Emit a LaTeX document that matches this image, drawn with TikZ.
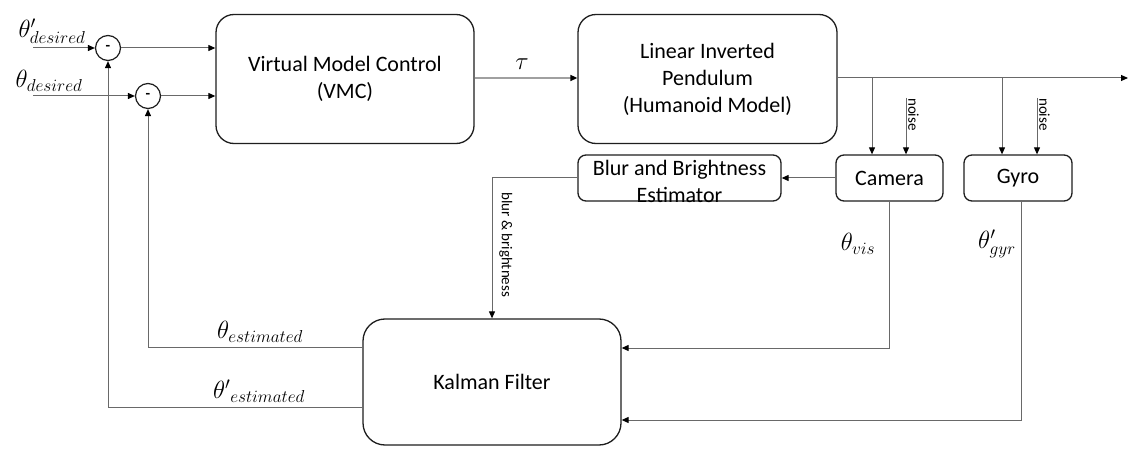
\documentclass[tikz,border=0pt]{standalone}
\usepackage{fontspec}
\setmainfont{Carlito}
\DeclareMathSizes{23}{23}{18}{13}
\usetikzlibrary{arrows.meta,calc}
\definecolor{conn}{RGB}{105,105,105}
\definecolor{tauc}{RGB}{160,160,160}
\definecolor{boxc}{RGB}{30,30,30}
\tikzset{
  block/.style={draw=boxc, line width=1.3pt, rounded corners=#1, align=center, inner sep=0pt,
    font=\fontsize{22}{27}\selectfont},
  block/.default=18pt,
  sumc/.style={draw=boxc, line width=1.2pt, circle, minimum size=25pt, inner sep=0pt,
    font=\fontsize{15}{15}\selectfont\bfseries},
  wire/.style={draw=conn, line width=1pt},
  arr/.style={wire, -{Triangle[length=7pt,width=6pt,color=black]}},
  small/.style={font=\fontsize{15}{15}\selectfont, inner sep=0pt},
  mlab/.style={font=\fontsize{23}{23}\selectfont, inner sep=0pt},
}
\begin{document}
\begin{tikzpicture}[x=1pt,y=-1pt]
\useasboundingbox[fill=white] (0,0) rectangle (1130,449);
% blocks
\node[block, minimum width=258pt, minimum height=129pt] (vmc) at (345,79)
  {Virtual Model Control\\(VMC)};
\node[block, minimum width=259pt, minimum height=129pt] (lip) at (707.5,79)
  {Linear Inverted\\Pendulum\\(Humanoid Model)};
\node[block=8pt, minimum width=203pt, minimum height=46pt] (blur) at (679.5,178) {};
\node[align=center, inner sep=0pt, font=\fontsize{22}{27}\selectfont] (blurtxt) at (679.5,181)
  {Blur and Brightness\\Estimator};
\node[block=8pt, minimum width=107pt, minimum height=46pt] (cam) at (889.5,178) {Camera};
\node[block=8pt, minimum width=108pt, minimum height=46pt] (gyro) at (1018,178) {Gyro};
\node[block=22pt, minimum width=258pt, minimum height=126pt] (kal) at (492,382) {Kalman Filter};
\node[sumc] (s1) at (108,48) {-};
\node[sumc] (s2) at (148,96) {-};
% coordinates
\coordinate (in1) at (33,48);
\coordinate (in2) at (33,96);
\coordinate (out) at (1128,78);
\coordinate (bc) at (872,78);
\coordinate (bg) at (1002,78);
\coordinate (nc) at (906,98);
\coordinate (ng) at (1037,98);
\coordinate (kv) at (889,348);
\coordinate (kg) at (1021,420);
\coordinate (ke1) at (363,347);
\coordinate (ke2) at (363,407);
\coordinate (bb) at (492,178);
\coordinate (tu) at (474,78);
% connectors
\draw[arr] (in1) -- (s1.west);
\draw[arr] (in2) -- (s2.west);
\draw[arr] (s1.east) -- (s1.east -| vmc.west);
\draw[arr] (s2.east) -- (s2.east -| vmc.west);
\draw[arr, draw=tauc, line width=1.5pt] (vmc.east |- tu) -- (lip.west |- tu);
\draw[arr] (lip.east |- out) -- (out);
\draw[arr] (bc) -- (bc |- cam.north);
\draw[arr] (bg) -- (bg |- gyro.north);
\draw[arr] (nc) -- (nc |- cam.north);
\draw[arr] (ng) -- (ng |- gyro.north);
\draw[arr] (cam.west) -- (blur.east);
\draw[arr] (blur.west) -- (bb) -- (kal.north);
\draw[arr] (cam.south -| kv) -- (kv) -- (kv -| kal.east);
\draw[arr] (gyro.south -| kg) -- (kg) -- (kg -| kal.east);
\draw[arr] (ke1 -| kal.west) -| (s2.south);
\draw[arr] (ke2 -| kal.west) -| (s1.south);
% labels
\node[mlab] (ltau) at (522,64) {$\tau$};
\node[mlab] (lpd) at (52,31) {$\theta'_{desired}$};
\node[mlab] (ld) at (49,81) {$\theta_{desired}$};
\node[mlab] (le) at (260,332) {$\theta_{estimated}$};
\node[mlab] (lpe) at (259,391) {${\theta'}_{estimated}$};
\node[mlab] (lv) at (858,244) {$\theta_{vis}$};
\node[mlab] (lg) at (997,244) {$\theta'_{gyr}$};
\node[small, rotate=-90, anchor=south west] (lnc) at (908,98) {noise};
\node[small, rotate=-90, anchor=south west] (lng) at (1039,98) {noise};
\node[small, rotate=-90, anchor=south west] (lbb) at (499,192) {blur \& brightness};
\end{tikzpicture}
\end{document}
